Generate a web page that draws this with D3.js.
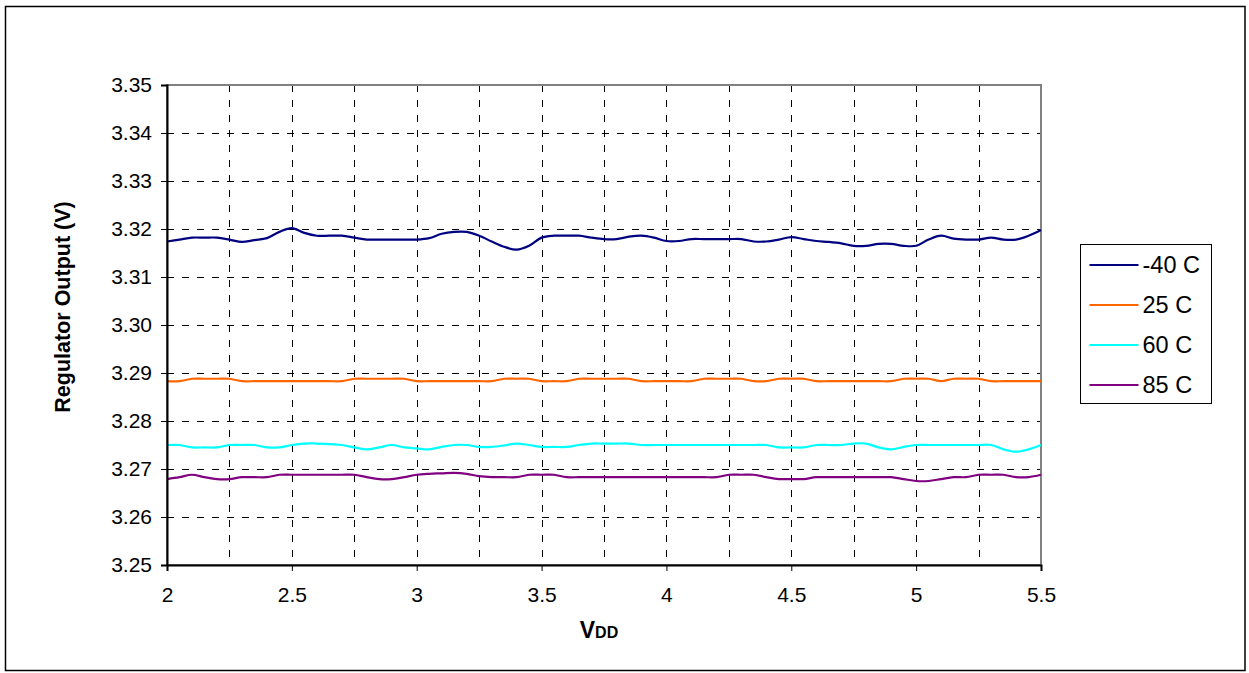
<!DOCTYPE html>
<html>
<head>
<meta charset="utf-8">
<script src="https://cdn.jsdelivr.net/npm/d3@7"></script>
<style>
  body { margin: 0; background: #fff; }
  text { font-family: "Liberation Sans", Arial, sans-serif; fill: #000; }
</style>
</head>
<body>
<div id="chart"></div>
<script>
// chart values (VDD step 0.05 V)
var vdd = d3.range(71).map(function(i) { return +(2 + i * 0.05).toFixed(2); });

var tMinus40 = [
  3.3174, 3.3178, 3.3182, 3.3182, 3.3182, 3.3178, 3.3173, 3.3177, 3.3181, 3.3194,
  3.3202, 3.3192, 3.3186, 3.3186, 3.3186, 3.3182, 3.3178, 3.3178, 3.3178, 3.3178,
  3.3178, 3.3181, 3.3190, 3.3194, 3.3194, 3.3186, 3.3174, 3.3163, 3.3157, 3.3165,
  3.3182, 3.3186, 3.3186, 3.3186, 3.3182, 3.3179, 3.3179, 3.3184, 3.3186, 3.3182,
  3.3175, 3.3175, 3.3179, 3.3179, 3.3179, 3.3179, 3.3179, 3.3174, 3.3174, 3.3178,
  3.3183, 3.3179, 3.3175, 3.3173, 3.3170, 3.3165, 3.3165, 3.3169, 3.3169, 3.3165,
  3.3165, 3.3178, 3.3186, 3.3180, 3.3178, 3.3178, 3.3182, 3.3178, 3.3178, 3.3186,
  3.3198
];

var t25 = [
  3.2883, 3.2883, 3.2888, 3.2888, 3.2888, 3.2888, 3.2883, 3.2883, 3.2883, 3.2883,
  3.2883, 3.2883, 3.2883, 3.2883, 3.2883, 3.2888, 3.2888, 3.2888, 3.2888, 3.2888,
  3.2883, 3.2883, 3.2883, 3.2883, 3.2883, 3.2883, 3.2883, 3.2888, 3.2888, 3.2888,
  3.2883, 3.2883, 3.2883, 3.2888, 3.2888, 3.2888, 3.2888, 3.2888, 3.2883, 3.2883,
  3.2883, 3.2883, 3.2883, 3.2888, 3.2888, 3.2888, 3.2888, 3.2883, 3.2883, 3.2888,
  3.2888, 3.2888, 3.2883, 3.2883, 3.2883, 3.2883, 3.2883, 3.2883, 3.2883, 3.2888,
  3.2888, 3.2888, 3.2883, 3.2888, 3.2888, 3.2888, 3.2883, 3.2883, 3.2883, 3.2883,
  3.2883
];

var t60 = [
  3.2750, 3.2750, 3.2745, 3.2745, 3.2745, 3.2750, 3.2750, 3.2750, 3.2745, 3.2745,
  3.2750, 3.2753, 3.2753, 3.2752, 3.2750, 3.2745, 3.2741, 3.2745, 3.2750, 3.2745,
  3.2743, 3.2741, 3.2746, 3.2750, 3.2750, 3.2746, 3.2746, 3.2749, 3.2753, 3.2750,
  3.2746, 3.2746, 3.2746, 3.2750, 3.2753, 3.2753, 3.2753, 3.2753, 3.2750, 3.2750,
  3.2750, 3.2750, 3.2750, 3.2750, 3.2750, 3.2750, 3.2750, 3.2750, 3.2750, 3.2745,
  3.2745, 3.2745, 3.2750, 3.2750, 3.2750, 3.2753, 3.2753, 3.2745, 3.2741, 3.2746,
  3.2750, 3.2750, 3.2750, 3.2750, 3.2750, 3.2750, 3.2750, 3.2741, 3.2736, 3.2741,
  3.2750
];

var t85 = [
  3.2679, 3.2683, 3.2688, 3.2683, 3.2679, 3.2679, 3.2683, 3.2683, 3.2683, 3.2688,
  3.2688, 3.2688, 3.2688, 3.2688, 3.2688, 3.2688, 3.2683, 3.2679, 3.2679, 3.2683,
  3.2688, 3.2690, 3.2691, 3.2692, 3.2690, 3.2685, 3.2683, 3.2683, 3.2683, 3.2688,
  3.2688, 3.2688, 3.2683, 3.2683, 3.2683, 3.2683, 3.2683, 3.2683, 3.2683, 3.2683,
  3.2683, 3.2683, 3.2683, 3.2683, 3.2683, 3.2688, 3.2688, 3.2688, 3.2683, 3.2679,
  3.2679, 3.2679, 3.2683, 3.2683, 3.2683, 3.2683, 3.2683, 3.2683, 3.2683, 3.2679,
  3.2675, 3.2675, 3.2679, 3.2683, 3.2683, 3.2688, 3.2688, 3.2688, 3.2683, 3.2683,
  3.2688
];

var seriesNames = ["-40 C", "25 C", "60 C", "85 C"];
var seriesColors = ["#000080", "#FF6600", "#00FFFF", "#800080"];
var seriesValues = [tMinus40, t25, t60, t85];

var xTicks = [2, 2.5, 3, 3.5, 4, 4.5, 5, 5.5];
var xGrid = d3.range(15).map(function(i) { return 2 + i * 0.25; });
var yTicks = d3.range(11).map(function(i) { return +(3.25 + i * 0.01).toFixed(2); });

//set the stage
var svgWidth = 1249;
var svgHeight = 673;

var margin = { top: 85, right: 208, bottom: 108, left: 167 };
var width = svgWidth - margin.left - margin.right;
var height = svgHeight - margin.top - margin.bottom;

var svg = d3.select("#chart")
  .append("svg")
  .attr("width", svgWidth)
  .attr("height", svgHeight);

// outer frame
svg.append("rect")
  .attr("x", 5.5)
  .attr("y", 6.5)
  .attr("width", 1239.5)
  .attr("height", 664)
  .attr("fill", "none")
  .attr("stroke", "#000")
  .attr("stroke-width", 1.5);

var chartGroup = svg.append("g")
  .attr("transform", `translate(${margin.left}, ${margin.top})`);

var xScale = d3.scaleLinear().domain([2, 5.5]).range([0, width]);
var yScale = d3.scaleLinear().domain([3.25, 3.35]).range([height, 0]);

// dashed grid
chartGroup.append("g")
  .selectAll("line")
  .data(xGrid.slice(1, -1))
  .enter()
  .append("line")
  .attr("x1", d => Math.round(xScale(d)) + 0.5)
  .attr("x2", d => Math.round(xScale(d)) + 0.5)
  .attr("y1", 0)
  .attr("y2", height)
  .attr("stroke", "#000")
  .attr("stroke-dasharray", "7,8");

chartGroup.append("g")
  .selectAll("line")
  .data(yTicks.slice(1, -1))
  .enter()
  .append("line")
  .attr("x1", 0)
  .attr("x2", width)
  .attr("y1", d => Math.round(yScale(d)) + 0.5)
  .attr("y2", d => Math.round(yScale(d)) + 0.5)
  .attr("stroke", "#000")
  .attr("stroke-dasharray", "7,8");

// plot area border
chartGroup.append("rect")
  .attr("x", 0)
  .attr("y", 0)
  .attr("width", width)
  .attr("height", height)
  .attr("fill", "none")
  .attr("stroke", "#808080")
  .attr("stroke-width", 2);

// lines
var line = d3.line()
  .x((d, i) => xScale(vdd[i]))
  .y(d => yScale(d))
  .curve(d3.curveCatmullRom.alpha(0.5));

chartGroup.selectAll(".series")
  .data(seriesValues)
  .enter()
  .append("path")
  .attr("class", "series")
  .attr("d", d => line(d))
  .attr("fill", "none")
  .attr("stroke", (d, i) => seriesColors[i])
  .attr("stroke-width", 2.2);

// axes
var bottomAxis = d3.axisBottom(xScale)
  .tickValues(xTicks)
  .tickFormat(d3.format("~g"))
  .tickSize(6)
  .tickPadding(16);

var leftAxis = d3.axisLeft(yScale)
  .tickValues(yTicks)
  .tickFormat(d3.format(".2f"))
  .tickSize(6)
  .tickPadding(9);

var xAxis = chartGroup.append("g")
  .attr("transform", `translate(0, ${height})`)
  .call(bottomAxis);

var yAxis = chartGroup.append("g")
  .call(leftAxis);

[xAxis, yAxis].forEach(function(ax) {
  ax.select(".domain").attr("stroke", "#000").attr("stroke-width", 2);
  ax.selectAll(".tick line").attr("stroke", "#000");
  ax.selectAll(".tick text")
    .style("font-family", "'Liberation Sans', Arial, sans-serif")
    .style("font-size", "21px")
    .attr("fill", "#000");
});

// axis titles
chartGroup.append("text")
  .attr("transform", "rotate(-90)")
  .attr("x", -222)
  .attr("y", -97)
  .attr("text-anchor", "middle")
  .style("font-size", "21.5px")
  .style("font-weight", "bold")
  .text("Regulator Output (V)");

var vddLabel = chartGroup.append("text")
  .attr("x", 432)
  .attr("y", height + 73)
  .attr("text-anchor", "middle")
  .style("font-weight", "bold");
vddLabel.append("tspan").style("font-size", "23px").text("V");
vddLabel.append("tspan").style("font-size", "16px").text("DD");

// legend
var legend = svg.append("g")
  .attr("transform", "translate(1080.5, 244.5)");

legend.append("rect")
  .attr("width", 131)
  .attr("height", 159)
  .attr("fill", "#fff")
  .attr("stroke", "#000")
  .attr("stroke-width", 1);

var legendItems = legend.selectAll(".item")
  .data(seriesNames)
  .enter()
  .append("g")
  .attr("class", "item")
  .attr("transform", (d, i) => `translate(0, ${20.5 + i * 40})`);

legendItems.append("line")
  .attr("x1", 9)
  .attr("x2", 58)
  .attr("stroke", (d, i) => seriesColors[i])
  .attr("stroke-width", 2);

legendItems.append("text")
  .attr("x", 62)
  .attr("dy", "0.36em")
  .style("font-size", "23.5px")
  .text(d => d);
</script>
</body>
</html>
